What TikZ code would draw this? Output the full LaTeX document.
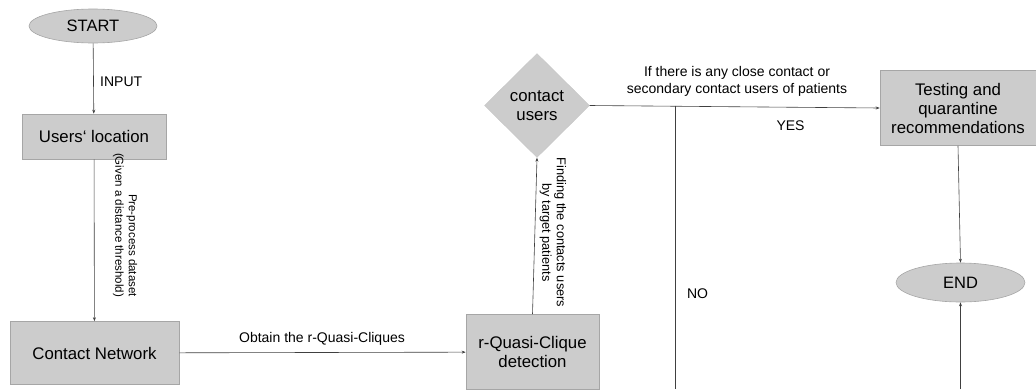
\documentclass[tikz,border=0pt]{standalone}
\usepackage{fontspec}
\setmainfont{Liberation Sans}
\usetikzlibrary{shapes.geometric,arrows.meta}
\begin{document}
\begin{tikzpicture}[x=1pt,y=-1pt,
  boxfill/.style={fill=black!20,draw=black!35,line width=0.6pt},
  procbox/.style={boxfill,rectangle,align=center,font=\fontsize{16.8}{19}\selectfont,inner sep=0pt},
  termnode/.style={boxfill,ellipse,font=\fontsize{16.5}{19}\selectfont,inner sep=0pt},
  decnode/.style={fill=black!20,draw=black!22,diamond,align=center,inner sep=0pt,font=\fontsize{16.8}{19}\selectfont},
  conn/.style={draw=black!75,line width=0.6pt},
  arr/.style={conn,-{Stealth[length=4pt,width=3pt]}},
  lbl/.style={font=\fontsize{14}{17}\selectfont,inner sep=0pt},
  rlbl/.style={font=\fontsize{12.8}{14.5}\selectfont,inner sep=0pt,rotate=-90}
]
\path[use as bounding box] (0,0) rectangle (1036,389);

\node[termnode,minimum width=128pt,minimum height=34pt] (start) at (93,26) {START};
\node[procbox,minimum width=144pt,minimum height=45pt] (users) at (94,136.5) {Users‘ location};
\node[procbox,minimum width=169pt,minimum height=63pt] (contact) at (94.5,353) {Contact Network};
\node[procbox,minimum width=133pt,minimum height=75pt] (rqc) at (532.5,352) {r-Quasi-Clique\\detection};
\node[decnode,minimum width=105pt,minimum height=104pt] (dia) at (537,105.5) {contact\\users};
\node[procbox,minimum width=156pt,minimum height=75pt] (test) at (958,108) {Testing and\\quarantine\\recommendations};
\node[termnode,minimum width=129pt,minimum height=39pt] (end) at (960.5,282.5) {END};

\coordinate (branch) at (675,105.5);
\coordinate (nobot) at (675,389);
\coordinate (endbot) at (960.5,389);

\draw[arr] (start) -- (users);
\draw[arr] (users) -- (contact);
\draw[arr] (contact) -- (rqc);
\draw[arr] (rqc.north) -- (dia.south);
\draw[arr] (dia.east) -- (test.west);
\draw[conn] (branch) -- (nobot);
\draw[arr] (test.south) -- (end.north);
\draw[arr] (endbot) -- (end.south);

\node[lbl,anchor=west] (linput) at (100,82) {INPUT};
\node[rlbl,align=right,font=\fontsize{11.5}{13.5}\selectfont] (lpre) at (125,225) {Pre-process dataset\\(Given a distance threshold)};
\node[lbl] (lobt) at (322,339) {Obtain the r-Quasi-Cliques};
\node[rlbl,align=center] (lfind) at (553,232.5) {Finding the contacts users\\by target patients};
\node[lbl,align=center] (lif) at (737,81.5) {If there is any close contact or\\secondary contact users of patients};
\node[lbl] (lyes) at (790.5,126) {YES};
\node[lbl] (lno) at (697.5,294) {NO};
\end{tikzpicture}
\end{document}
